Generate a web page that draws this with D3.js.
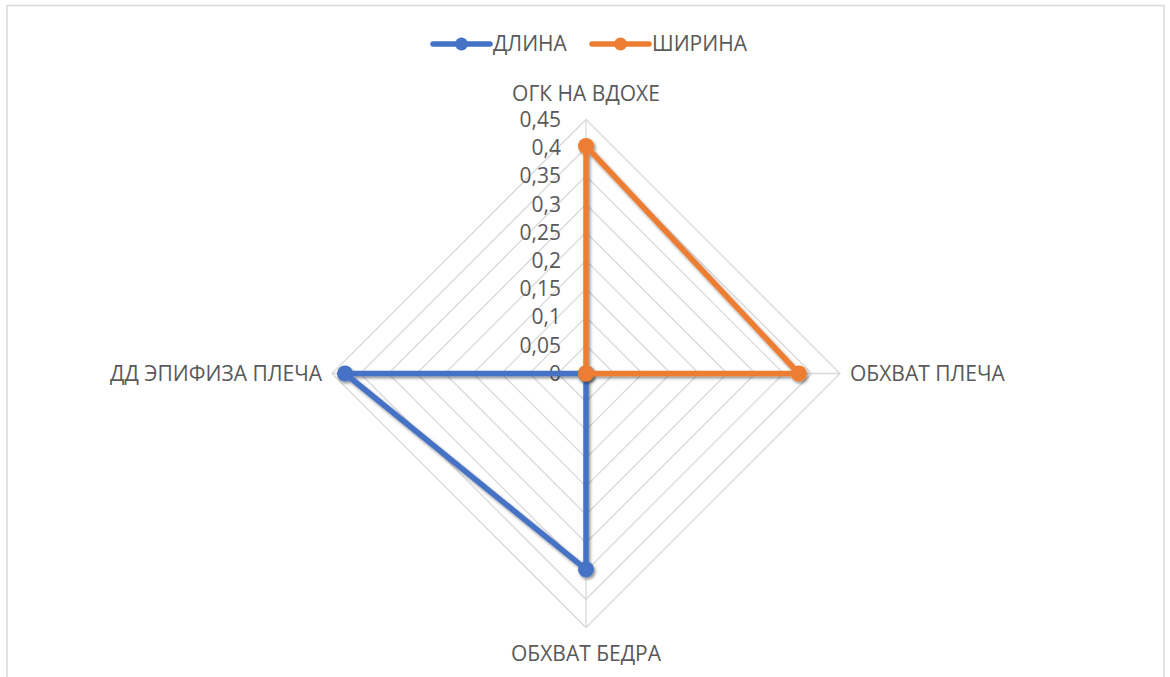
<!DOCTYPE html>
<html>
<head>
<meta charset="utf-8">
<script src="https://cdn.jsdelivr.net/npm/d3@7"></script>
<style>
  body { margin: 0; background: #fff; }
  text { font-family: "Open Sans", sans-serif; fill: #595959; }
</style>
</head>
<body>
<div id="viz"></div>
<script>
// chart data
var axes = ['ОГК НА ВДОХЕ', 'ОБХВАТ ПЛЕЧА', 'ОБХВАТ БЕДРА', 'ДД ЭПИФИЗА ПЛЕЧА'];
var seriesNames = ['ДЛИНА', 'ШИРИНА'];
var dlina = [0, 0, 0.347, 0.427];
var shirina = [0.403, 0.377, 0, 0];
var ticks = [0, 0.05, 0.1, 0.15, 0.2, 0.25, 0.3, 0.35, 0.4, 0.45];
var colors = ['#4472C4', '#ED7D31'];

var width = 1170, height = 677,
    cx = 586, cy = 373.5, radius = 254;

var svg = d3.select('#viz').append('svg')
  .attr('width', width)
  .attr('height', height);

var defs = svg.append('defs');
defs.append('filter').attr('id', 'shadow')
  .attr('x', '-20%').attr('y', '-20%').attr('width', '140%').attr('height', '140%')
  .append('feDropShadow')
    .attr('dx', 1.5).attr('dy', 2).attr('stdDeviation', 1.8)
    .attr('flood-color', '#000').attr('flood-opacity', 0.45);

// frame
svg.append('rect')
  .attr('x', 7).attr('y', 5.5)
  .attr('width', 1157).attr('height', 690)
  .attr('fill', 'none').attr('stroke', '#d9d9d9').attr('stroke-width', 1.5);

var r = d3.scaleLinear().domain([0, 0.45]).range([0, radius]);
var angle = d3.scaleLinear().domain([0, axes.length]).range([0, 2 * Math.PI]);

function pt(i, v) {
  var a = angle(i);
  return [cx + r(v) * Math.sin(a), cy - r(v) * Math.cos(a)];
}

var g = svg.append('g');

// rings
ticks.slice(1).forEach(function(t) {
  g.append('path')
    .attr('d', d3.line()(axes.map(function(d, i) { return pt(i, t); })) + 'Z')
    .attr('fill', 'none')
    .attr('stroke', '#d9d9d9')
    .attr('stroke-width', 1.3);
});

// spokes
axes.forEach(function(d, i) {
  var p = pt(i, 0.45);
  g.append('line')
    .attr('x1', cx).attr('y1', cy).attr('x2', p[0]).attr('y2', p[1])
    .attr('stroke', '#d9d9d9').attr('stroke-width', 1.3);
});

// tick labels
g.selectAll('.tick').data(ticks).enter().append('text')
  .attr('class', 'tick')
  .attr('x', cx - 25)
  .attr('y', function(d) { return cy - r(d); })
  .attr('dy', '0.35em')
  .attr('text-anchor', 'end')
  .style('font-size', '21px')
  .text(function(d) { return String(d).replace('.', ','); });

// axis labels
var labelPos = [
  { x: cx, y: 101, anchor: 'middle' },
  { x: 850, y: cy + 7, anchor: 'start' },
  { x: cx, y: 661, anchor: 'middle' },
  { x: 322, y: cy + 7, anchor: 'end' }
];
g.selectAll('.axlabel').data(axes).enter().append('text')
  .attr('class', 'axlabel')
  .attr('x', function(d, i) { return labelPos[i].x; })
  .attr('y', function(d, i) { return labelPos[i].y; })
  .attr('text-anchor', function(d, i) { return labelPos[i].anchor; })
  .style('font-size', '21px')
  .text(function(d) { return d; });

// series
[dlina, shirina].forEach(function(vals, s) {
  var pts = vals.map(function(v, i) { return pt(i, v); });
  var sg = g.append('g').attr('filter', 'url(#shadow)');
  sg.append('path')
    .attr('d', d3.line()(pts) + 'Z')
    .attr('fill', 'none')
    .attr('stroke', colors[s])
    .attr('stroke-width', 5.5)
    .attr('stroke-linejoin', 'round');
  sg.selectAll('circle').data(pts).enter().append('circle')
    .attr('cx', function(d) { return d[0]; })
    .attr('cy', function(d) { return d[1]; })
    .attr('r', 8)
    .attr('fill', colors[s]);
});

// legend
var legendX = [433, 592];
seriesNames.forEach(function(name, s) {
  var lg = svg.append('g').attr('transform', 'translate(' + legendX[s] + ',44)');
  lg.append('line')
    .attr('x1', 0).attr('x2', 57).attr('y1', 0).attr('y2', 0)
    .attr('stroke', colors[s]).attr('stroke-width', 5.5)
    .attr('stroke-linecap', 'round');
  lg.append('circle').attr('cx', 28.5).attr('cy', 0).attr('r', 6.5)
    .attr('fill', colors[s]);
  lg.append('text')
    .attr('x', 60).attr('y', 0).attr('dy', '0.35em')
    .style('font-size', '21px')
    .text(name);
});
</script>
</body>
</html>
